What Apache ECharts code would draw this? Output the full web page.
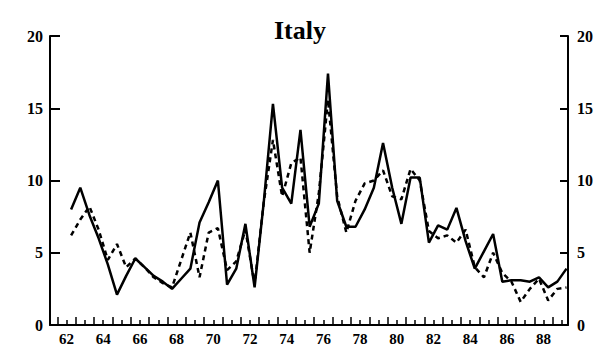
<!DOCTYPE html>
<html>
<head>
<meta charset="utf-8">
<script src="https://cdn.jsdelivr.net/npm/echarts@6/dist/echarts.min.js"></script>
<style>
  html, body { margin: 0; padding: 0; background: #fff; }
  #chart { width: 598px; height: 347px; }
</style>
</head>
<body>
<div id="chart"></div>
<script>
// half-year observations, plotted at mid-half (62.25, 62.75, ...)
var startYear = 62.25;
var solid = [8.0, 9.5, 7.6, 6.0, 4.2, 2.1, 3.4, 4.6, 4.0, 3.4, 3.0, 2.5,
  3.2, 3.9, 7.1, 8.5, 10.0, 2.8, 3.9, 7.0, 2.6, 8.5, 15.3, 9.5,
  8.4, 13.5, 6.8, 8.4, 17.4, 8.6, 6.8, 6.8, 8.0, 9.5, 12.6, 9.5,
  7.0, 10.2, 10.2, 5.7, 6.9, 6.6, 8.1, 5.8, 3.9, 5.1, 6.3, 3.0,
  3.1, 3.1, 3.0, 3.3, 2.6, 3.0, 3.9];
var dashed = [6.2, 7.3, 8.2, 6.6, 4.5, 5.6, 4.0, 4.6, 4.0, 3.3, 2.9, 2.6,
  4.5, 6.4, 3.3, 6.4, 6.7, 3.8, 4.4, 6.6, 2.8, 8.5, 12.8, 8.9,
  11.2, 11.6, 5.0, 9.1, 15.6, 8.9, 6.4, 8.6, 9.8, 10.0, 10.7, 8.9,
  8.7, 10.8, 10.0, 6.5, 6.0, 6.2, 5.7, 6.6, 4.0, 3.3, 5.0, 3.6,
  3.0, 1.6, 2.5, 3.2, 1.7, 2.5, 2.6];
var yearLabels = [62, 64, 66, 68, 70, 72, 74, 76, 78, 80, 82, 84, 86, 88];
var yearTicks = [];
var halfTicks = [];
for (var t = 62; t <= 89; t++) { yearTicks.push(t); halfTicks.push(t - 0.5); }

function pairs(vals) {
  return vals.map(function(v, i) { return [startYear + i * 0.5, v]; });
}

var serif = 'Liberation Serif, Times New Roman, serif';
var labelStyle = { color: '#000', fontFamily: serif, fontWeight: 'bold', fontSize: 16 };

var chart = echarts.init(document.getElementById('chart'), null, { renderer: 'svg' });
chart.setOption({
  animation: false,
  title: {
    text: 'Italy',
    left: 269,
    top: 12,
    textStyle: { color: '#000', fontFamily: serif, fontWeight: 'bold', fontSize: 26 }
  },
  grid: { left: 50, right: 30, top: 36, bottom: 22 },
  xAxis: [
    {
      type: 'value',
      min: 61.1,
      max: 89.33,
      position: 'bottom',
      axisLine: { show: true, lineStyle: { color: '#000', width: 2 } },
      axisTick: { show: true, inside: true, length: 5, customValues: yearTicks, lineStyle: { color: '#000', width: 1.5 } },
      axisLabel: Object.assign({ customValues: yearLabels, margin: 6, fontSize: 15 }, labelStyle, { fontSize: 15 }),
      splitLine: { show: false }
    },
    {
      type: 'value',
      min: 61.1,
      max: 89.33,
      position: 'bottom',
      axisLine: { show: false },
      axisTick: { show: true, inside: true, length: 8, customValues: halfTicks, lineStyle: { color: '#000', width: 1.5 } },
      axisLabel: { show: false },
      splitLine: { show: false }
    }
  ],
  yAxis: [
    {
      type: 'value', min: 0, max: 20, interval: 5, position: 'left',
      axisLine: { show: true, lineStyle: { color: '#000', width: 2 } },
      axisTick: { show: true, inside: true, length: 10, lineStyle: { color: '#000', width: 2 } },
      axisLabel: Object.assign({ margin: 7 }, labelStyle),
      splitLine: { show: false }
    },
    {
      type: 'value', min: 0, max: 20, interval: 5, position: 'right',
      axisLine: { show: true, lineStyle: { color: '#000', width: 2 } },
      axisTick: { show: true, inside: true, length: 8, lineStyle: { color: '#000', width: 2 } },
      axisLabel: Object.assign({ margin: 9 }, labelStyle),
      splitLine: { show: false }
    }
  ],
  series: [
    {
      name: 'solid',
      type: 'line',
      data: pairs(solid),
      showSymbol: false,
      lineStyle: { color: '#000', width: 2.5 },
      z: 3
    },
    {
      name: 'dashed',
      type: 'line',
      data: pairs(dashed),
      showSymbol: false,
      lineStyle: { color: '#000', width: 2.5, type: [5, 4] },
      z: 2
    }
  ]
});
</script>
</body>
</html>
